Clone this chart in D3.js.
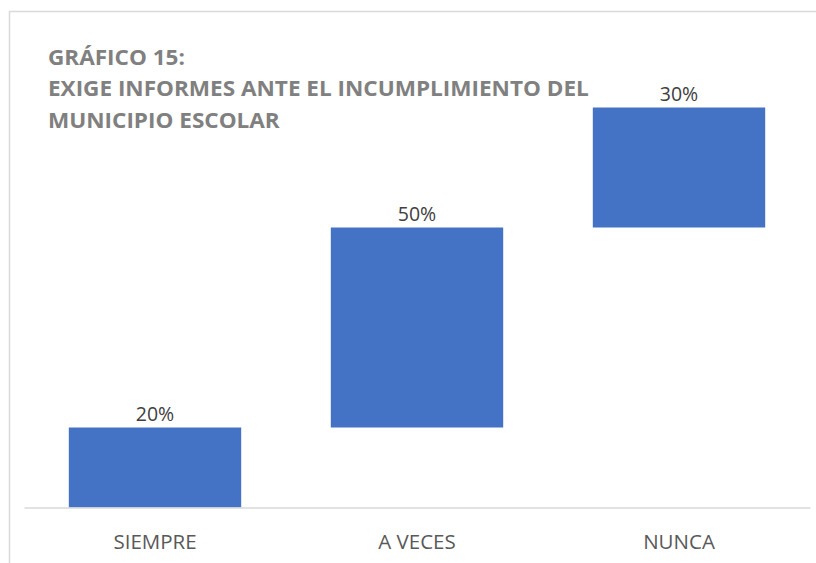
<!DOCTYPE html>
<html>
<head>
<meta charset="utf-8">
<script src="https://cdn.jsdelivr.net/npm/d3@7"></script>
<style>
  body { margin: 0; background: #fff; }
  svg { display: block; }
</style>
</head>
<body>
<script>
const width = 816;
const height = 563;

// datos del grafico
const categories = ['SIEMPRE', 'A VECES', 'NUNCA'];
const values = [20, 50, 30];
const valueLabels = ['20%', '50%', '30%'];
const titleLines = ['GRÁFICO 15:', 'EXIGE INFORMES ANTE EL INCUMPLIMIENTO DEL', 'MUNICIPIO ESCOLAR'];

// cascada: cada barra empieza donde termina la anterior
let acc = 0;
const data = categories.map((c, i) => {
    const start = acc;
    acc += values[i];
    return { cat: c, start: start, end: acc, label: valueLabels[i] };
});

const svg = d3.select('body').append('svg')
    .attr('width', width)
    .attr('height', height);

svg.append('rect')
    .attr('width', width)
    .attr('height', height)
    .attr('fill', '#fff');

// marco del grafico
svg.append('rect')
    .attr('x', 9.5)
    .attr('y', 11.5)
    .attr('width', width + 10)
    .attr('height', height + 10)
    .attr('fill', 'none')
    .attr('stroke', '#d9d9d9')
    .attr('stroke-width', 1.5);

const xScale = d3.scaleBand()
    .domain(categories)
    .range([24, 810])
    .paddingInner(0.342)
    .paddingOuter(0.171);

const yScale = d3.scaleLinear()
    .domain([0, 100])
    .range([507.5, 107.5]);

svg.selectAll('.bar')
    .data(data)
    .enter().append('rect')
    .attr('class', 'bar')
    .attr('x', d => xScale(d.cat))
    .attr('y', d => yScale(d.end))
    .attr('width', xScale.bandwidth())
    .attr('height', d => yScale(d.start) - yScale(d.end))
    .attr('fill', '#4472c4');

const xAxis = d3.axisBottom(xScale).tickSize(0).tickSizeOuter(0).tickPadding(0);

const gx = svg.append('g')
    .attr('class', 'x-axis')
    .attr('transform', 'translate(0,' + yScale(0) + ')')
    .call(xAxis);

gx.select('.domain')
    .attr('stroke', '#d9d9d9')
    .attr('stroke-width', 1.5);

gx.selectAll('.tick text')
    .attr('dy', null)
    .attr('y', 41)
    .style('font-family', '"Open Sans", sans-serif')
    .style('font-size', '20.5px')
    .style('fill', '#595959');

// etiquetas de porcentaje
svg.selectAll('.val')
    .data(data)
    .enter().append('text')
    .attr('class', 'val')
    .attr('x', d => xScale(d.cat) + xScale.bandwidth() / 2)
    .attr('y', d => yScale(d.end) - 7)
    .attr('text-anchor', 'middle')
    .style('font-family', '"Open Sans", sans-serif')
    .style('font-size', '19.5px')
    .style('fill', '#404040')
    .text(d => d.label);

// titulo (un poco ensanchado, como en el original)
svg.append('g')
    .attr('transform', 'translate(48,0) scale(1.1,1)')
    .selectAll('text')
    .data(titleLines)
    .enter().append('text')
    .attr('x', 0)
    .attr('y', (d, i) => 65 + i * 31.5)
    .style('font-family', '"Open Sans", sans-serif')
    .style('font-weight', 'bold')
    .style('font-size', '20.5px')
    .style('fill', '#808080')
    .text(d => d);
</script>
</body>
</html>
